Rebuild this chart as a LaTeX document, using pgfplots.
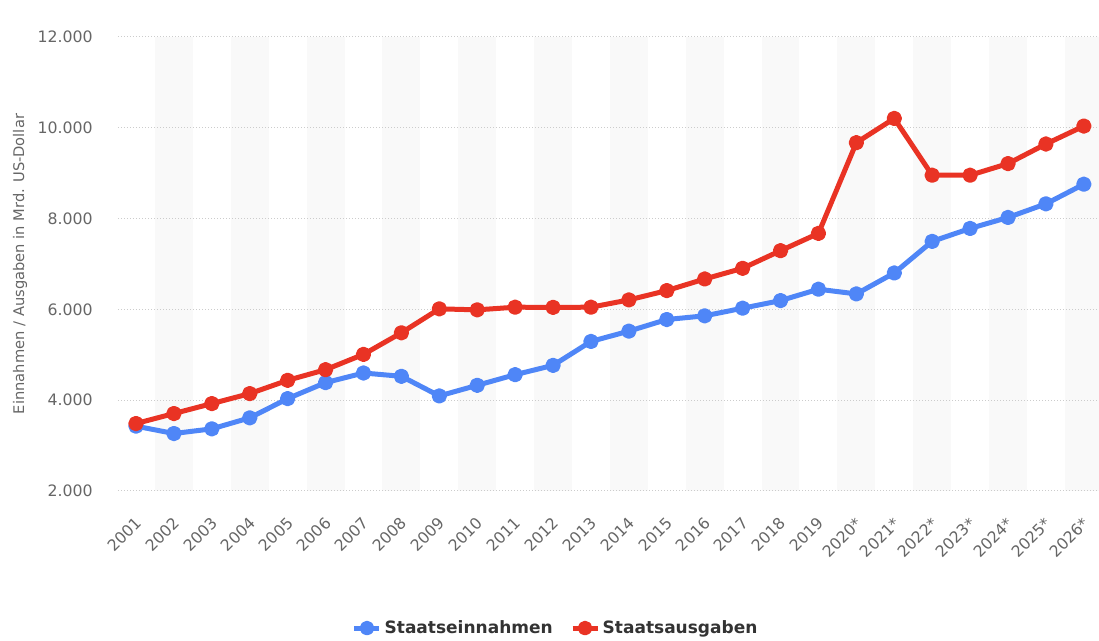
\documentclass[border=0pt]{standalone}
\usepackage{pgfplots}
\pgfplotsset{compat=1.18}
\usepackage{pgfplotstable}
\usepackage{fontspec}
\setmainfont{DejaVu Sans}

\definecolor{sblue}{RGB}{79,134,247}
\definecolor{sred}{RGB}{233,51,36}
\definecolor{tickgray}{RGB}{102,102,102}
\definecolor{band}{RGB}{249,249,249}
\definecolor{legtext}{RGB}{51,51,51}

% index 0 = 2001 ... 25 = 2026
\pgfplotstableread{
x rev exp
0 3428 3486
1 3266 3706
2 3369 3925
3 3611 4145
4 4035 4438
5 4387 4672
6 4599 5009
7 4526 5485
8 4094 6012
9 4328 5990
10 4562 6048
11 4767 6045
12 5294 6048
13 5521 6209
14 5777 6414
15 5858 6670
16 6026 6905
17 6194 7293
18 6444 7674
19 6341 9672
20 6802 10206
21 7498 8955
22 7783 8955
23 8025 9211
24 8325 9643
25 8757 10038
}\budget

\begin{document}
\begin{tikzpicture}
\begin{axis}[
  name=ax, set layers,
  scale only axis, width=735.75pt, height=340.5pt,
  xmin=-0.475, xmax=25.4, ymin=2000, ymax=12000,
  axis line style={draw=none}, tick style={draw=none},
  clip=false,
  ytick={2000,4000,...,12000},
  scaled y ticks=false,
  ymajorgrids,
  grid style={gray!40, line width=0.75pt, dash pattern=on 0.75pt off 1.5pt},
  /pgf/number format/.cd, 1000 sep={.}, assume math mode=true, /pgfplots/.cd,
  yticklabel style={font=\fontsize{11.8}{14}\selectfont, color=tickgray,
    inner sep=0pt, anchor=east, xshift=-18.75pt},
  xtick={0,...,25},
  xticklabels={2001,2002,2003,2004,2005,2006,2007,2008,2009,2010,2011,2012,2013,
    2014,2015,2016,2017,2018,2019,2020*,2021*,2022*,2023*,2024*,2025*,2026*},
  xticklabel style={font=\fontsize{11.8}{14}\selectfont, color=tickgray,
    inner sep=0pt, anchor=east, xshift=2pt, yshift=-22pt, rotate=45},
  ylabel={Einnahmen / Ausgaben in Mrd. US-Dollar},
  ylabel style={font=\fontsize{11}{13}\selectfont, color=tickgray,
    at={(axis description cs:-0.0999,0.5)}, anchor=center},
  legend columns=2,
  legend style={at={(axis description cs:0.4465,-0.302)}, anchor=center,
    draw=none, fill=none, font=\fontsize{12.75}{15}\selectfont\bfseries,
    text=legtext, inner sep=0pt,
    /tikz/every even column/.append style={column sep=11pt}},
  legend cell align=left,
  legend image code/.code={
    \draw[mark repeat=2, mark phase=2, #1, mark size=3.6pt]
      plot coordinates {(0pt,0pt) (9.4pt,0pt) (18.75pt,0pt)};},
  every axis plot/.append style={line width=3.75pt, line join=round,
    mark=*, mark size=3.9pt, mark options={solid, line width=0.5pt}},
]
\begin{pgfonlayer}{axis background}
\fill[band] (axis cs:0.5,2000) rectangle (axis cs:1.5,12000);
\fill[band] (axis cs:2.5,2000) rectangle (axis cs:3.5,12000);
\fill[band] (axis cs:4.5,2000) rectangle (axis cs:5.5,12000);
\fill[band] (axis cs:6.5,2000) rectangle (axis cs:7.5,12000);
\fill[band] (axis cs:8.5,2000) rectangle (axis cs:9.5,12000);
\fill[band] (axis cs:10.5,2000) rectangle (axis cs:11.5,12000);
\fill[band] (axis cs:12.5,2000) rectangle (axis cs:13.5,12000);
\fill[band] (axis cs:14.5,2000) rectangle (axis cs:15.5,12000);
\fill[band] (axis cs:16.5,2000) rectangle (axis cs:17.5,12000);
\fill[band] (axis cs:18.5,2000) rectangle (axis cs:19.5,12000);
\fill[band] (axis cs:20.5,2000) rectangle (axis cs:21.5,12000);
\fill[band] (axis cs:22.5,2000) rectangle (axis cs:23.5,12000);
\fill[band] (axis cs:24.5,2000) rectangle (axis cs:25.4,12000);
\end{pgfonlayer}
\addplot[sblue, mark options={fill=sblue}] table[x=x, y=rev] {\budget};
\addlegendentry{Staatseinnahmen}
\addplot[sred, mark options={fill=sred}] table[x=x, y=exp] {\budget};
\addlegendentry{Staatsausgaben}
\end{axis}
\pgfresetboundingbox
\path ([xshift=-88.5pt, yshift=-112.5pt]ax.south west)
  rectangle ([yshift=27.75pt]ax.north east);
\end{tikzpicture}
\end{document}
